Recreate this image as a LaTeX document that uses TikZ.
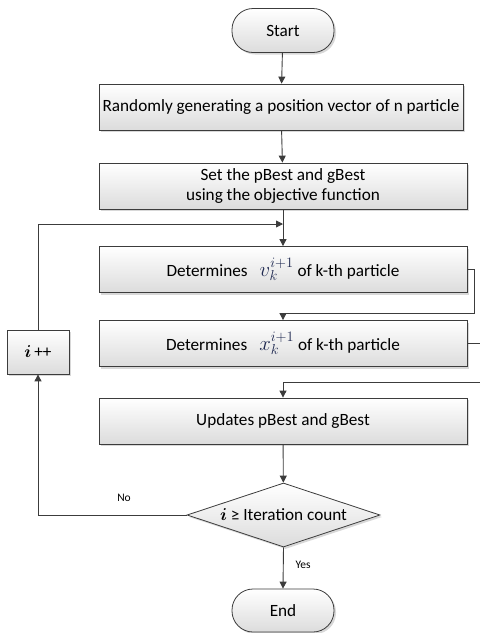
\documentclass[tikz,border=0pt]{standalone}
\usepackage{fontspec}
\setmainfont{Carlito}
\usepackage{bm}
\usetikzlibrary{arrows.meta,shapes.geometric,shadows,positioning}
\definecolor{linegray}{RGB}{60,60,60}
\definecolor{boxgray}{RGB}{220,220,220}
\definecolor{mathblue}{RGB}{30,40,80}
\tikzset{
  shaded/.style={draw=linegray, line width=0.8pt, top color=white, bottom color=boxgray,
    drop shadow={shadow xshift=2pt, shadow yshift=-2pt, fill=black!30}},
  procbox/.style={shaded, rectangle, minimum width=368pt, minimum height=46pt,
    inner sep=1pt, align=center, font=\fontsize{17.2}{20.5}\selectfont},
  termbox/.style={shaded, rectangle, rounded corners=21pt, minimum width=102pt,
    minimum height=44pt, font=\fontsize{17.2}{20.5}\selectfont},
  testbox/.style={shaded, diamond, aspect=3, inner sep=0pt, minimum width=193pt,
    minimum height=64pt, font=\fontsize{17.2}{20.5}\selectfont},
  flow/.style={draw=linegray, line width=0.9pt, -{Triangle[length=7pt,width=7pt]}},
  small/.style={font=\fontsize{11.5}{13}\selectfont}
}
\newcommand{\bigmath}[1]{{\fontsize{20}{22}\selectfont\color{mathblue}$#1$}}
\begin{document}
\begin{tikzpicture}[x=1pt,y=-1pt]
\useasboundingbox (0,0) rectangle (480,633);

\node[termbox] (start) at (283,30.5) {Start};
\node[procbox, minimum width=364pt] (gen) at (281,107) {Randomly generating a position vector of n particle};
\node[procbox] (init) at (283,186) {Set the pBest and gBest\\using the objective function};
\node[procbox] (vel) at (283,269.5) {Determines\hspace{0.7em}\bigmath{v_k^{i+1}} of k-th particle};
\node[procbox] (pos) at (283,343.5) {Determines\hspace{0.7em}\bigmath{x_k^{i+1}} of k-th particle};
\node[procbox] (upd) at (283,421) {Updates pBest and gBest};
\node[testbox] (test) at (283.5,515) {$\bm{i}$ ≥ Iteration count};
\node[termbox, minimum height=43pt] (stop) at (283,610.5) {End};
\node[procbox, minimum width=62pt, minimum height=44pt] (inc) at (38,352) {$\bm{i}$\,++};

\coordinate (join) at (283,224);

\foreach \a/\b in {start/gen, gen/init, upd/test}
{
\draw[flow] (\a) -- (\b);
}

\draw[draw=linegray, line width=0.9pt] (init) -- (join);
\draw[flow] (join) -- (vel);
\draw[flow] (inc.north) |- (join);

\draw[flow] (vel.east) -- ++(7,0) |- (283,313) -- (pos.north);
\draw[flow] (pos.east) -- ++(20,0) |- (283,382) -- (upd.north);

\draw[flow] (test.west) -| (inc.south);
\node[small] (no) at (124,498) {No};

\draw[flow] (test.south) -- (stop.north);
\node[small] (yes) at (303,565) {Yes};

\end{tikzpicture}
\end{document}
